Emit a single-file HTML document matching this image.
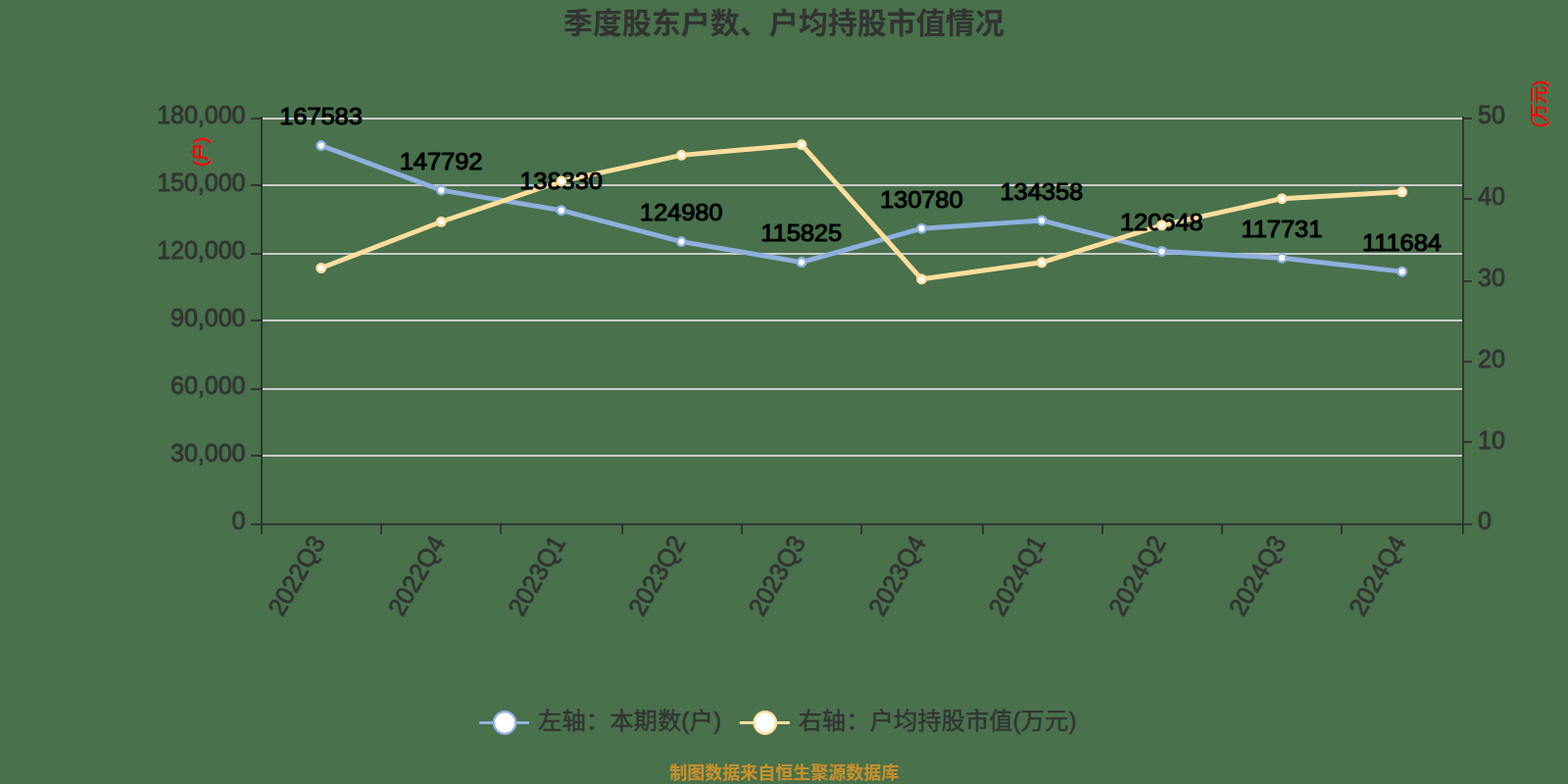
<!DOCTYPE html>
<html lang="zh-CN">
<head>
<meta charset="utf-8">
<title>季度股东户数、户均持股市值情况</title>
<style>
html,body{margin:0;padding:0;background:#48714c;}
body{width:1600px;height:800px;overflow:hidden;font-family:"Liberation Sans","Noto Sans CJK SC",sans-serif;}
svg{display:block;position:absolute;left:0;top:0;}
text{font-family:"Liberation Sans","Noto Sans CJK SC",sans-serif;}
.yl{font-size:25px;fill:#333333;stroke:#333333;stroke-width:0.75px;}
.xl{font-size:25px;fill:#333333;stroke:#333333;stroke-width:0.75px;}
.dl{font-size:25px;fill:#000;stroke:#000;stroke-width:1.0px;text-anchor:middle;}
</style>
</head>
<body>
<svg width="1600" height="800" viewBox="0 0 1600 800" role="img" aria-label="季度股东户数、户均持股市值情况">
<rect width="1600" height="800" fill="#48714c"/>
<g id="title" fill="#333333" stroke="none"><text x="574.7" y="33.8" font-size="30" font-weight="bold" textLength="450.0">季度股东户数、户均持股市值情况</text></g>
<g id="grid" fill="#cccccc" shape-rendering="crispEdges">
<rect x="268" y="120" width="1224" height="2"/>
<rect x="268" y="188" width="1224" height="2"/>
<rect x="268" y="258" width="1224" height="2"/>
<rect x="268" y="326" width="1224" height="2"/>
<rect x="268" y="396" width="1224" height="2"/>
<rect x="268" y="464" width="1224" height="2"/>
</g>
<g id="axes" fill="#333333" shape-rendering="crispEdges">
<rect x="266" y="119" width="2" height="417"/>
<rect x="1492" y="119" width="2" height="417"/>
<rect x="266" y="534" width="1228" height="2"/>
<rect x="256" y="120" width="10" height="2"/>
<rect x="256" y="188" width="10" height="2"/>
<rect x="256" y="258" width="10" height="2"/>
<rect x="256" y="326" width="10" height="2"/>
<rect x="256" y="396" width="10" height="2"/>
<rect x="256" y="464" width="10" height="2"/>
<rect x="256" y="534" width="10" height="2"/>
<rect x="1494" y="120" width="8" height="2"/>
<rect x="1494" y="202" width="8" height="2"/>
<rect x="1494" y="286" width="8" height="2"/>
<rect x="1494" y="368" width="8" height="2"/>
<rect x="1494" y="450" width="8" height="2"/>
<rect x="1494" y="534" width="8" height="2"/>
<rect x="266" y="535" width="2" height="10"/>
<rect x="388" y="535" width="2" height="10"/>
<rect x="510" y="535" width="2" height="10"/>
<rect x="634" y="535" width="2" height="10"/>
<rect x="756" y="535" width="2" height="10"/>
<rect x="878" y="535" width="2" height="10"/>
<rect x="1002" y="535" width="2" height="10"/>
<rect x="1124" y="535" width="2" height="10"/>
<rect x="1246" y="535" width="2" height="10"/>
<rect x="1368" y="535" width="2" height="10"/>
<rect x="1492" y="535" width="2" height="10"/>
</g>
<g id="yleft" class="yl" text-anchor="end">
<text transform="translate(250.5,126.40) scale(1,1.04)">180,000</text>
<text transform="translate(250.5,195.40) scale(1,1.04)">150,000</text>
<text transform="translate(250.5,264.40) scale(1,1.04)">120,000</text>
<text transform="translate(250.5,333.40) scale(1,1.04)">90,000</text>
<text transform="translate(250.5,402.40) scale(1,1.04)">60,000</text>
<text transform="translate(250.5,471.40) scale(1,1.04)">30,000</text>
<text transform="translate(250.5,540.40) scale(1,1.04)">0</text>
</g>
<g id="yright" class="yl" text-anchor="start">
<text transform="translate(1508,126.40) scale(1,1.04)">50</text>
<text transform="translate(1508,209.20) scale(1,1.04)">40</text>
<text transform="translate(1508,292.00) scale(1,1.04)">30</text>
<text transform="translate(1508,374.80) scale(1,1.04)">20</text>
<text transform="translate(1508,457.60) scale(1,1.04)">10</text>
<text transform="translate(1508,540.40) scale(1,1.04)">0</text>
</g>
<g id="xlabels" class="xl" text-anchor="end">
<text transform="translate(332.50,553.20) rotate(-60) scale(1,1.04)">2022Q3</text>
<text transform="translate(455.05,553.20) rotate(-60) scale(1,1.04)">2022Q4</text>
<text transform="translate(577.60,553.20) rotate(-60) scale(1,1.04)">2023Q1</text>
<text transform="translate(700.15,553.20) rotate(-60) scale(1,1.04)">2023Q2</text>
<text transform="translate(822.70,553.20) rotate(-60) scale(1,1.04)">2023Q3</text>
<text transform="translate(945.25,553.20) rotate(-60) scale(1,1.04)">2023Q4</text>
<text transform="translate(1067.80,553.20) rotate(-60) scale(1,1.04)">2024Q1</text>
<text transform="translate(1190.35,553.20) rotate(-60) scale(1,1.04)">2024Q2</text>
<text transform="translate(1312.90,553.20) rotate(-60) scale(1,1.04)">2024Q3</text>
<text transform="translate(1435.45,553.20) rotate(-60) scale(1,1.04)">2024Q4</text>
</g>
<g id="lines" fill="none" stroke-width="4.9" stroke-linejoin="bevel">
<polyline points="327.70,148.56 450.25,194.08 572.80,214.69 695.35,246.55 817.90,267.60 940.45,233.21 1063.00,224.98 1185.55,256.51 1308.10,263.22 1430.65,277.13" stroke="#8fb0de"/>
<polyline points="327.70,273.50 450.25,226.30 572.80,184.80 695.35,158.35 817.90,147.60 940.45,284.80 1063.00,267.80 1185.55,229.80 1308.10,202.70 1430.65,195.80" stroke="#ffde9c"/>
</g>
<g id="series-left" class="dl">
<circle cx="327.70" cy="148.56" r="4.3" fill="#fff" stroke="#8fb0de" stroke-width="2.4"/>
<text transform="translate(327.50,127.16) scale(1.015,0.985)">167583</text>
<circle cx="450.25" cy="194.08" r="4.3" fill="#fff" stroke="#8fb0de" stroke-width="2.4"/>
<text transform="translate(450.05,172.68) scale(1.015,0.985)">147792</text>
<circle cx="572.80" cy="214.69" r="4.3" fill="#fff" stroke="#8fb0de" stroke-width="2.4"/>
<text transform="translate(572.60,193.29) scale(1.015,0.985)">138830</text>
<circle cx="695.35" cy="246.55" r="4.3" fill="#fff" stroke="#8fb0de" stroke-width="2.4"/>
<text transform="translate(695.15,225.15) scale(1.015,0.985)">124980</text>
<circle cx="817.90" cy="267.60" r="4.3" fill="#fff" stroke="#8fb0de" stroke-width="2.4"/>
<text transform="translate(817.70,246.20) scale(1.015,0.985)">115825</text>
<circle cx="940.45" cy="233.21" r="4.3" fill="#fff" stroke="#8fb0de" stroke-width="2.4"/>
<text transform="translate(940.25,211.81) scale(1.015,0.985)">130780</text>
<circle cx="1063.00" cy="224.98" r="4.3" fill="#fff" stroke="#8fb0de" stroke-width="2.4"/>
<text transform="translate(1062.80,203.58) scale(1.015,0.985)">134358</text>
<circle cx="1185.55" cy="256.51" r="4.3" fill="#fff" stroke="#8fb0de" stroke-width="2.4"/>
<text transform="translate(1185.35,235.11) scale(1.015,0.985)">120648</text>
<circle cx="1308.10" cy="263.22" r="4.3" fill="#fff" stroke="#8fb0de" stroke-width="2.4"/>
<text transform="translate(1307.90,241.82) scale(1.015,0.985)">117731</text>
<circle cx="1430.65" cy="277.13" r="4.3" fill="#fff" stroke="#8fb0de" stroke-width="2.4"/>
<text transform="translate(1430.45,255.73) scale(1.015,0.985)">111684</text>
</g>
<g id="series-right">
<circle cx="327.70" cy="273.50" r="4.3" fill="#fff" stroke="#ffde9c" stroke-width="2.4"/>
<circle cx="450.25" cy="226.30" r="4.3" fill="#fff" stroke="#ffde9c" stroke-width="2.4"/>
<circle cx="572.80" cy="184.80" r="4.3" fill="#fff" stroke="#ffde9c" stroke-width="2.4"/>
<circle cx="695.35" cy="158.35" r="4.3" fill="#fff" stroke="#ffde9c" stroke-width="2.4"/>
<circle cx="817.90" cy="147.60" r="4.3" fill="#fff" stroke="#ffde9c" stroke-width="2.4"/>
<circle cx="940.45" cy="284.80" r="4.3" fill="#fff" stroke="#ffde9c" stroke-width="2.4"/>
<circle cx="1063.00" cy="267.80" r="4.3" fill="#fff" stroke="#ffde9c" stroke-width="2.4"/>
<circle cx="1185.55" cy="229.80" r="4.3" fill="#fff" stroke="#ffde9c" stroke-width="2.4"/>
<circle cx="1308.10" cy="202.70" r="4.3" fill="#fff" stroke="#ffde9c" stroke-width="2.4"/>
<circle cx="1430.65" cy="195.80" r="4.3" fill="#fff" stroke="#ffde9c" stroke-width="2.4"/>
</g>
<g id="name-left" fill="#f00" stroke="#f00" stroke-width="0.55" transform="translate(205,155) rotate(-90) scale(1,1) translate(-15.08,5.84)"><text x="0" y="0" font-size="18" textLength="30.2">(户)</text></g>
<g id="name-right" fill="#f00" stroke="#f00" stroke-width="0.55" transform="translate(1571,106) rotate(-90) scale(1,1) translate(-24.08,5.60)"><text x="0" y="0" font-size="18" textLength="48.2">(万元)</text></g>
<g id="legend">
<rect x="489.2" y="736.0" width="50.80000000000001" height="3" fill="#8fb0de"/>
<circle cx="515.0500000000001" cy="737.5" r="11.3" fill="#fff" stroke="#8fb0de" stroke-width="2.2"/>
<g fill="#333333" stroke="#333333" stroke-width="0.4"><text x="549" y="744.4" font-size="24.25" textLength="187.0">左轴：本期数(户)</text></g>
<rect x="754.8" y="736.0" width="51.0" height="3" fill="#ffde9c"/>
<circle cx="780.75" cy="737.5" r="11.3" fill="#fff" stroke="#ffde9c" stroke-width="2.2"/>
<g fill="#333333" stroke="#333333" stroke-width="0.4"><text x="814.5" y="744.4" font-size="24.25" textLength="284.0">右轴：户均持股市值(万元)</text></g>
</g>
<g id="footer" fill="#c8902a" stroke="none"><text x="683" y="795.2" font-size="18" font-weight="bold" textLength="234.0">制图数据来自恒生聚源数据库</text></g>
</svg>
</body>
</html>
